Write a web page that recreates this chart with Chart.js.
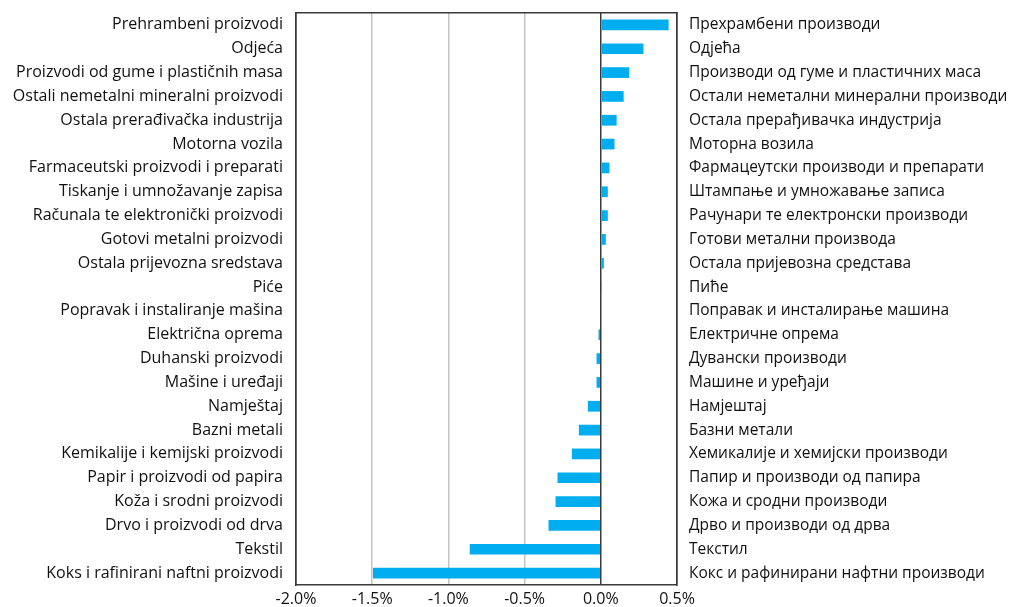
<!DOCTYPE html>
<html>
<head>
<meta charset="utf-8">
<script src="https://cdn.jsdelivr.net/npm/chart.js@4/dist/chart.umd.min.js"></script>
<style>
  html, body { margin: 0; padding: 0; background: #fff; }
  #wrap { width: 1011px; height: 607px; position: relative; }
</style>
</head>
<body>
<div id="wrap"><canvas id="c" width="1011" height="607"></canvas></div>
<script>
const categoriesLatin = [
  "Prehrambeni proizvodi",
  "Odjeća",
  "Proizvodi od gume i plastičnih masa",
  "Ostali nemetalni mineralni proizvodi",
  "Ostala prerađivačka industrija",
  "Motorna vozila",
  "Farmaceutski proizvodi i preparati",
  "Tiskanje i umnožavanje zapisa",
  "Računala te elektronički proizvodi",
  "Gotovi metalni proizvodi",
  "Ostala prijevozna sredstava",
  "Piće",
  "Popravak i instaliranje mašina",
  "Električna oprema",
  "Duhanski proizvodi",
  "Mašine i uređaji",
  "Namještaj",
  "Bazni metali",
  "Kemikalije i kemijski proizvodi",
  "Papir i proizvodi od papira",
  "Koža i srodni proizvodi",
  "Drvo i proizvodi od drva",
  "Tekstil",
  "Koks i rafinirani naftni proizvodi"
];
const categoriesCyrillic = [
  "Прехрамбени производи",
  "Одјећа",
  "Производи од гуме и пластичних маса",
  "Остали неметални минерални производи",
  "Остала прерађивачка индустрија",
  "Моторна возила",
  "Фармацеутски производи и препарати",
  "Штампање и умножавање записа",
  "Рачунари те електронски производи",
  "Готови метални производа",
  "Остала пријевозна средстава",
  "Пиће",
  "Поправак и инсталирање машина",
  "Електричне опрема",
  "Дувански производи",
  "Машине и уређаји",
  "Намјештај",
  "Базни метали",
  "Хемикалије и хемијски производи",
  "Папир и производи од папира",
  "Кожа и сродни производи",
  "Дрво и производи од дрва",
  "Текстил",
  "Кокс и рафинирани нафтни производи"
];
const values = [
  0.445, 0.28, 0.187, 0.15, 0.104, 0.09, 0.057, 0.046, 0.046, 0.033, 0.02, 0.008,
  0.0, -0.015, -0.028, -0.028, -0.085, -0.144, -0.19, -0.284, -0.297, -0.343, -0.86, -1.495
];
const xMin = -2.0;
const xMax = 0.5;
const xStep = 0.5;

const FONT = { family: "'Open Sans', sans-serif", size: 16 };
const FONT_R = { family: "'Open Sans', sans-serif", size: 15.5 };
const TEXT = '#111111';
const BORDER = '#3a3a3a';

function zeroPad(s) { s.paddingTop = 0; s.paddingBottom = 0; }

new Chart(document.getElementById('c'), {
  type: 'bar',
  data: {
    labels: categoriesLatin,
    datasets: [{
      data: values,
      backgroundColor: '#00AEEF',
      borderWidth: 0,
      categoryPercentage: 0.45,
      barPercentage: 1.0,
      yAxisID: 'y',
      xAxisID: 'x'
    }]
  },
  options: {
    indexAxis: 'y',
    responsive: false,
    animation: false,
    devicePixelRatio: 1,
    layout: { padding: 0 },
    plugins: { legend: { display: false }, tooltip: { enabled: false } },
    scales: {
      x: {
        type: 'linear',
        position: 'bottom',
        min: xMin, max: xMax,
        ticks: {
          stepSize: xStep,
          color: TEXT,
          font: FONT,
          padding: 5,
          callback: v => v.toFixed(1) + '%'
        },
        grid: {
          drawTicks: false,
          lineWidth: 1.5,
          color: ctx => {
            const v = ctx.tick ? ctx.tick.value : null;
            if (v === 0 || v === xMin || v === xMax) return BORDER;
            return '#c4c4c4';
          }
        },
        border: { display: true, color: BORDER, width: 1.5 },
        afterFit: s => { s.height = 22; }
      },
      xTop: {
        type: 'linear',
        position: 'top',
        min: xMin, max: xMax,
        ticks: { display: false },
        grid: { display: false, drawTicks: false },
        border: { display: true, color: BORDER, width: 1.5 },
        afterFit: s => { s.height = 13; }
      },
      y: {
        type: 'category',
        position: 'left',
        offset: true,
        ticks: { color: TEXT, font: FONT, padding: 13, autoSkip: false },
        grid: { display: false, drawTicks: false },
        border: { display: true, color: BORDER, width: 1.5 },
        afterFit: s => { s.width = 296; zeroPad(s); }
      },
      y2: {
        type: 'category',
        position: 'right',
        labels: categoriesCyrillic,
        offset: true,
        ticks: { color: TEXT, font: FONT_R, padding: 12, autoSkip: false },
        grid: { display: false, drawTicks: false },
        border: { display: true, color: BORDER, width: 1.5 },
        afterFit: s => { s.width = 334; zeroPad(s); }
      }
    }
  }
});
</script>
</body>
</html>
